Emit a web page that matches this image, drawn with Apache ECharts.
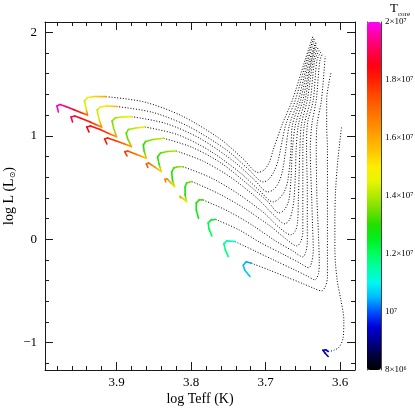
<!DOCTYPE html>
<html>
<head>
<meta charset="utf-8">
<script src="https://cdn.jsdelivr.net/npm/echarts@6.0.0/dist/echarts.min.js"></script>
<style>
html,body{margin:0;padding:0;background:#ffffff;}
#chart{width:415px;height:415px;}
</style>
</head>
<body>
<div id="chart"></div>
<script>
// ---------- axes ----------
const xRange = [3.58, 3.996];
const yRange = [-1.265, 2.1];
const xMajorTicks = [3.6, 3.7, 3.8, 3.9];
const xMinorTicks = [3.6, 3.62, 3.64, 3.66, 3.68, 3.7, 3.72, 3.74, 3.76, 3.78, 3.8, 3.82, 3.84, 3.86, 3.88, 3.9, 3.92, 3.94, 3.96, 3.98];
const yMajorTicks = [-1, 0, 1, 2];
const yMinorTicks = [-1.2, -1, -0.8, -0.6, -0.4, -0.2, 0, 0.2, 0.4, 0.6, 0.8, 1, 1.2, 1.4, 1.6, 1.8, 2];
const tcoreRange = [8e6, 2e7];
const tcoreTickValues = [8e6, 1e7, 1.2e7, 1.4e7, 1.6e7, 1.8e7, 2e7];
const tcoreTickLabels = ['8×10⁶', '10⁷', '1.2×10⁷', '1.4×10⁷', '1.6×10⁷', '1.8×10⁷', '2×10⁷'];
const tcoreMinorTicks = [8.5e6, 9e6, 9.5e6, 1e7, 1.05e7, 1.1e7, 1.15e7, 1.2e7, 1.25e7, 1.3e7, 1.35e7, 1.4e7, 1.45e7, 1.5e7, 1.55e7, 1.6e7, 1.65e7, 1.7e7, 1.75e7, 1.8e7, 1.85e7, 1.9e7, 1.95e7];
const tcoreColors = ['#000000', '#00003c', '#000090', '#0000d8', '#0050ff', '#00b8ff', '#00f8f0', '#00ffa8', '#00ff60', '#00f020', '#20e000', '#70e000', '#b0ea00', '#e8f400', '#ffee00', '#ffc800', '#ffa800', '#ff8800', '#ff6800', '#ff4800', '#ff2000', '#ff0010', '#ff0050', '#ff0098', '#ff00ff'];

// ---------- tracks: colored parts [logTeff, logL, Tcore] ----------
const track1Colored = [[3.978,1.230,1.97e7],[3.980,1.288,1.97e7],[3.976,1.302,1.96e7],[3.968,1.283,1.92e7],[3.957,1.251,1.87e7],[3.948,1.225,1.8e7],[3.939,1.201,1.7e7],[3.941,1.269,1.46e7],[3.943,1.336,1.42e7],[3.939,1.370,1.46e7],[3.929,1.380,1.54e7],[3.914,1.378,1.6e7]];
const track2Colored = [[3.959,1.133,1.9e7],[3.961,1.182,1.9e7],[3.956,1.191,1.88e7],[3.947,1.167,1.84e7],[3.936,1.136,1.8e7],[3.928,1.109,1.75e7],[3.920,1.085,1.64e7],[3.924,1.172,1.44e7],[3.926,1.249,1.41e7],[3.922,1.278,1.45e7],[3.913,1.288,1.52e7],[3.900,1.283,1.58e7]];
const track3Colored = [[3.937,1.037,1.85e7],[3.940,1.085,1.85e7],[3.935,1.095,1.84e7],[3.922,1.061,1.8e7],[3.912,1.027,1.75e7],[3.900,0.991,1.62e7],[3.904,1.075,1.38e7],[3.906,1.143,1.35e7],[3.902,1.172,1.38e7],[3.893,1.182,1.43e7],[3.880,1.185,1.47e7]];
const track4Colored = [[3.913,0.921,1.82e7],[3.916,0.969,1.82e7],[3.912,0.979,1.8e7],[3.901,0.952,1.77e7],[3.890,0.923,1.7e7],[3.880,0.895,1.6e7],[3.885,0.969,1.35e7],[3.887,1.024,1.33e7],[3.884,1.061,1.37e7],[3.874,1.075,1.42e7],[3.862,1.085,1.47e7]];
const track5Colored = [[3.886,0.805,1.77e7],[3.889,0.846,1.77e7],[3.885,0.853,1.75e7],[3.873,0.819,1.68e7],[3.860,0.783,1.56e7],[3.863,0.853,1.32e7],[3.864,0.911,1.3e7],[3.861,0.945,1.33e7],[3.851,0.964,1.38e7],[3.837,0.976,1.42e7]];
const track6Colored = [[3.858,0.694,1.72e7],[3.860,0.728,1.72e7],[3.857,0.737,1.7e7],[3.849,0.699,1.64e7],[3.840,0.653,1.53e7],[3.843,0.728,1.32e7],[3.845,0.795,1.3e7],[3.841,0.834,1.33e7],[3.832,0.848,1.37e7],[3.820,0.853,1.4e7]];
const track7Colored = [[3.834,0.554,1.66e7],[3.835,0.578,1.66e7],[3.832,0.583,1.64e7],[3.827,0.544,1.58e7],[3.822,0.508,1.48e7],[3.825,0.573,1.3e7],[3.826,0.650,1.29e7],[3.823,0.689,1.32e7],[3.818,0.701,1.36e7],[3.811,0.701,1.4e7]];
const track8Colored = [[3.814,0.399,1.6e7],[3.815,0.414,1.6e7],[3.810,0.389,1.55e7],[3.806,0.363,1.46e7],[3.808,0.428,1.3e7],[3.808,0.505,1.28e7],[3.806,0.544,1.32e7],[3.799,0.557,1.37e7]];
const track9Colored = [[3.790,0.203,1.27e7],[3.793,0.283,1.27e7],[3.793,0.351,1.29e7],[3.789,0.380,1.32e7],[3.784,0.380,1.34e7]];
const track10Colored = [[3.772,0.032,1.2e7],[3.776,0.100,1.21e7],[3.777,0.158,1.22e7],[3.773,0.187,1.24e7],[3.767,0.191,1.26e7]];
const track11Colored = [[3.750,-0.168,1.17e7],[3.754,-0.103,1.17e7],[3.756,-0.045,1.16e7],[3.752,-0.016,1.15e7],[3.741,-0.023,1.13e7]];
const track12Colored = [[3.721,-0.361,1.06e7],[3.728,-0.297,1.06e7],[3.730,-0.253,1.05e7],[3.726,-0.219,1.04e7],[3.719,-0.232,1.04e7]];
const track13Colored = [[3.616,-1.134,9.2e6],[3.620,-1.103,9.3e6],[3.623,-1.074,9.3e6],[3.619,-1.070,9.4e6],[3.616,-1.086,9.4e6]];

// ---------- tracks: dotted parts [logTeff, logL] ----------
const track1Dotted = [[3.914,1.378],[3.863,1.327],[3.812,1.191],[3.761,0.969],[3.730,0.776],[3.710,0.645],[3.702,0.670],[3.695,0.742],[3.690,0.858],[3.678,1.104],[3.664,1.346],[3.647,1.732],[3.636,1.974]];
const track2Dotted = [[3.900,1.283],[3.851,1.225],[3.802,1.085],[3.752,0.860],[3.723,0.677],[3.703,0.554],[3.696,0.578],[3.689,0.650],[3.683,0.766],[3.673,1.104],[3.660,1.346],[3.645,1.732],[3.635,1.955]];
const track3Dotted = [[3.880,1.185],[3.834,1.119],[3.788,0.974],[3.742,0.748],[3.715,0.573],[3.697,0.457],[3.689,0.481],[3.682,0.554],[3.677,0.670],[3.673,0.863],[3.668,1.104],[3.656,1.346],[3.643,1.732],[3.634,1.935]];
const track4Dotted = [[3.862,1.085],[3.819,1.013],[3.776,0.860],[3.733,0.636],[3.708,0.469],[3.690,0.360],[3.683,0.385],[3.675,0.457],[3.670,0.573],[3.666,0.863],[3.664,1.104],[3.653,1.346],[3.641,1.732],[3.632,1.916]];
const track5Dotted = [[3.837,0.976],[3.799,0.889],[3.760,0.737],[3.721,0.514],[3.696,0.356],[3.682,0.254],[3.675,0.283],[3.669,0.370],[3.666,0.573],[3.664,0.863],[3.660,1.104],[3.650,1.346],[3.639,1.732],[3.632,1.897]];
const track6Dotted = [[3.820,0.853],[3.784,0.755],[3.747,0.599],[3.710,0.387],[3.690,0.240],[3.674,0.148],[3.668,0.187],[3.664,0.283],[3.662,0.380],[3.660,0.621],[3.659,0.863],[3.656,1.104],[3.647,1.346],[3.638,1.732],[3.631,1.877]];
const track7Dotted = [[3.811,0.701],[3.774,0.596],[3.738,0.444],[3.702,0.253],[3.683,0.121],[3.666,0.042],[3.660,0.080],[3.657,0.167],[3.656,0.380],[3.655,0.621],[3.654,0.863],[3.652,1.104],[3.644,1.346],[3.636,1.732],[3.629,1.858]];
const track8Dotted = [[3.799,0.557],[3.764,0.444],[3.728,0.296],[3.693,0.122],[3.673,0.004],[3.658,-0.065],[3.653,-0.026],[3.650,0.071],[3.650,0.283],[3.650,0.573],[3.650,0.863],[3.648,1.104],[3.640,1.346],[3.634,1.732],[3.627,1.839]];
const track9Dotted = [[3.784,0.380],[3.750,0.270],[3.717,0.131],[3.687,-0.016],[3.663,-0.116],[3.650,-0.171],[3.646,-0.123],[3.644,-0.026],[3.644,0.187],[3.644,0.476],[3.645,0.863],[3.644,1.104],[3.636,1.346],[3.631,1.732],[3.625,1.819]];
const track10Dotted = [[3.767,0.191],[3.735,0.088],[3.708,-0.029],[3.675,-0.151],[3.654,-0.231],[3.642,-0.277],[3.638,-0.219],[3.636,-0.103],[3.637,0.138],[3.638,0.380],[3.640,0.863],[3.638,1.104],[3.632,1.346],[3.627,1.732],[3.623,1.800]];
const track11Dotted = [[3.741,-0.023],[3.715,-0.112],[3.688,-0.205],[3.661,-0.297],[3.644,-0.357],[3.634,-0.393],[3.629,-0.335],[3.628,-0.219],[3.629,0.042],[3.631,0.380],[3.632,0.863],[3.631,1.104],[3.625,1.346],[3.620,1.771]];
const track12Dotted = [[3.719,-0.232],[3.695,-0.299],[3.672,-0.366],[3.649,-0.433],[3.636,-0.473],[3.625,-0.500],[3.620,-0.461],[3.617,-0.364],[3.617,-0.152],[3.617,0.187],[3.617,0.476],[3.617,0.863],[3.618,1.104],[3.618,1.346],[3.612,1.616]];
const track13Dotted = [[3.616,-1.086],[3.608,-1.074],[3.601,-1.041],[3.596,-0.954],[3.595,-0.780],[3.599,-0.586],[3.604,-0.393],[3.607,-0.103],[3.607,0.187],[3.606,0.476],[3.603,0.766],[3.598,1.088]];

const coloredTracks = [track1Colored, track2Colored, track3Colored, track4Colored, track5Colored, track6Colored, track7Colored, track8Colored, track9Colored, track10Colored, track11Colored, track12Colored, track13Colored];
const dottedTracks = [track1Dotted, track2Dotted, track3Dotted, track4Dotted, track5Dotted, track6Dotted, track7Dotted, track8Dotted, track9Dotted, track10Dotted, track11Dotted, track12Dotted, track13Dotted];

// ---------- chart ----------
const chart = echarts.init(document.getElementById('chart'), null, {renderer: 'canvas'});
const serif = '"Liberation Serif", "Times New Roman", serif';
const frame = {color: '#1a1a1a', width: 1};

function xAxisDef(pos, major) {
  return {
    type: 'value', gridIndex: 0, min: xRange[0], max: xRange[1], inverse: true, position: pos,
    axisLine: {show: major, onZero: false, lineStyle: frame},
    axisTick: {show: true, inside: true, length: major ? 8 : 4, customValues: major ? xMajorTicks : xMinorTicks, lineStyle: frame},
    axisLabel: {show: major && pos === 'bottom', customValues: xMajorTicks, margin: 6,
      fontFamily: serif, fontSize: 13, color: '#000', formatter: v => v.toFixed(1)},
    splitLine: {show: false},
    name: (major && pos === 'bottom') ? 'log Teff (K)' : '',
    nameLocation: 'middle', nameGap: 22, nameMoveOverlap: false,
    nameTextStyle: {fontFamily: serif, fontSize: 14, color: '#000'}
  };
}
function yAxisDef(pos, major) {
  return {
    type: 'value', gridIndex: 0, min: yRange[0], max: yRange[1], position: pos,
    axisLine: {show: major, onZero: false, lineStyle: frame},
    axisTick: {show: true, inside: true, length: major ? 8 : 4, customValues: major ? yMajorTicks : yMinorTicks, lineStyle: frame},
    axisLabel: {show: major && pos === 'left', customValues: yMajorTicks, margin: 8,
      fontFamily: serif, fontSize: 13, color: '#000',
      formatter: v => (v < 0 ? '\u2212' + Math.abs(v) : String(v))},
    splitLine: {show: false},
    name: (major && pos === 'left') ? 'log L (L{sub|⊙})' : '',
    nameLocation: 'middle', nameGap: 28, nameRotate: 90, nameMoveOverlap: false,
    nameTextStyle: {fontFamily: serif, fontSize: 14, color: '#000',
      rich: {sub: {fontFamily: '"DejaVu Sans", sans-serif', fontSize: 8, color: '#000', padding: [7, 0, 0, 0]}}}
  };
}
function cbarAxisDef(pos, withLabels) {
  return {
    type: 'value', gridIndex: 1, min: tcoreRange[0], max: tcoreRange[1], position: pos,
    axisLine: {show: true, onZero: false, lineStyle: {color: '#444', width: 1}},
    axisTick: {show: true, inside: true, length: 3, customValues: tcoreMinorTicks, lineStyle: {color: '#000', width: 1}},
    axisLabel: {show: withLabels, customValues: tcoreTickValues, margin: 4, fontFamily: serif, fontSize: 9, color: '#000',
      formatter: v => { const i = tcoreTickValues.findIndex(t => Math.abs(t - v) < 1); return i >= 0 ? tcoreTickLabels[i] : ''; }},
    splitLine: {show: false}
  };
}

const series = [];
dottedTracks.forEach(d => {
  series.push({
    type: 'line', xAxisIndex: 0, yAxisIndex: 0, data: d, symbol: 'none', smooth: 0.3, silent: true, z: 3,
    lineStyle: {color: '#000', width: 1, type: [1, 1.8]}
  });
});
const coloredIdx = [];
coloredTracks.forEach(pts => {
  const cols = [];
  coloredIdx.push(series.length);
  series.push({
    type: 'custom', coordinateSystem: 'cartesian2d', xAxisIndex: 0, yAxisIndex: 0,
    data: pts, encode: {x: 0, y: 1}, silent: true, z: 5,
    renderItem: function (params, api) {
      const i = params.dataIndex;
      cols[i] = api.visual('color');
      if (i === 0) return {type: 'group', children: []};
      const p0 = api.coord([pts[i - 1][0], pts[i - 1][1]]);
      const p1 = api.coord([api.value(0), api.value(1)]);
      const c0 = cols[i - 1] || cols[i];
      return {
        type: 'line',
        shape: {x1: p0[0], y1: p0[1], x2: p1[0], y2: p1[1]},
        style: {
          stroke: new echarts.graphic.LinearGradient(p0[0], p0[1], p1[0] + 0.01, p1[1] + 0.01,
            [{offset: 0, color: c0}, {offset: 1, color: cols[i]}], true),
          lineWidth: 1.6, lineCap: 'round'
        }
      };
    }
  });
});

const option = {
  animation: false,
  backgroundColor: '#ffffff',
  graphic: [
    {type: 'text', left: 390, top: 2, style: {text: 'T', fontFamily: serif, fontSize: 13, fill: '#000'}},
    {type: 'text', left: 398, top: 11, style: {text: 'core', fontFamily: serif, fontSize: 7, fill: '#000'}}
  ],
  grid: [
    {left: 45, top: 22, width: 310, height: 348, containLabel: false, outerBoundsMode: 'none'},
    {left: 367, top: 22, width: 14, height: 348, containLabel: false, outerBoundsMode: 'none'}
  ],
  xAxis: [
    xAxisDef('bottom', true), xAxisDef('bottom', false), xAxisDef('top', true), xAxisDef('top', false),
    {type: 'value', gridIndex: 1, show: false, min: 0, max: 1}
  ],
  yAxis: [
    yAxisDef('left', true), yAxisDef('left', false), yAxisDef('right', true), yAxisDef('right', false),
    cbarAxisDef('right', true), cbarAxisDef('left', false)
  ],
  visualMap: {
    type: 'continuous', min: tcoreRange[0], max: tcoreRange[1], dimension: 2, seriesIndex: coloredIdx,
    inRange: {color: tcoreColors}, orient: 'vertical', left: 367, top: 22, itemWidth: 14, itemHeight: 348,
    calculable: false, padding: 0, text: null, showLabel: false, hoverLink: false
  },
  series: series
};
chart.setOption(option);
</script>
</body>
</html>
